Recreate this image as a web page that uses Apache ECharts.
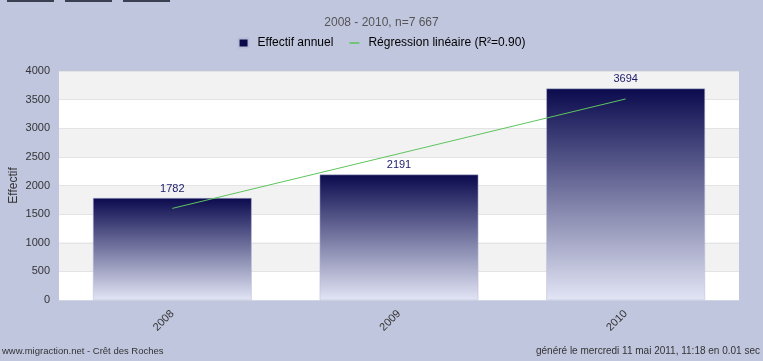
<!DOCTYPE html>
<html><head><meta charset="utf-8">
<script src="https://cdn.jsdelivr.net/npm/echarts@6/dist/echarts.min.js"></script>
<style>html,body{margin:0;padding:0;background:#C1C6DF;}#c{width:763px;height:361px;}</style>
</head><body><div id="c"></div>
<script>
const categories = ['2008', '2009', '2010'];
const effectif = [1782, 2191, 3694];
const regression = [1600, 2556, 3512];
const yTicks = [0, 500, 1000, 1500, 2000, 2500, 3000, 3500, 4000];
const titleText = '2008 - 2010, n=7 667';
const footerLeft = 'www.migraction.net - Crêt des Roches';
const footerRight = 'généré le mercredi 11 mai 2011, 11:18 en 0.01 sec';

const chart = echarts.init(document.getElementById('c'), null, {renderer: 'canvas'});
const font = 'Arial, "Liberation Sans", sans-serif';
chart.setOption({
  backgroundColor: '#C1C6DF',
  animation: false,
  textStyle: {fontFamily: font},
  title: {text: titleText, left: 'center', top: 12,
    textStyle: {fontSize: 12, fontWeight: 'normal', color: '#555'}},
  legend: {top: 32, left: 'center', itemWidth: 10, itemHeight: 9, itemGap: 16,
    textStyle: {fontSize: 12, color: '#000', padding: [0, 0, 0, 4]},
    data: [
      {name: 'Effectif annuel', icon: 'rect', itemStyle: {color: '#0A0A4A'}},
      {name: 'Régression linéaire (R²=0.90)', icon: 'path://M0,4L10,4L10,5.6L0,5.6Z', itemStyle: {color: '#5EC45E'}}
    ]},
  grid: {left: 59, right: 24, top: 71, bottom: 61, outerBoundsMode: 'none', containLabel: false},
  xAxis: {type: 'category', data: categories,
    axisLine: {lineStyle: {color: '#D0D4E4'}}, axisTick: {show: false},
    axisLabel: {rotate: 45, color: '#333', fontSize: 11, margin: 12}},
  yAxis: {type: 'value', min: 0, max: 4000, interval: 500,
    name: 'Effectif', nameLocation: 'middle', nameGap: 39, nameRotate: 90, nameMoveOverlap: false,
    nameTextStyle: {fontSize: 12, color: '#333'},
    axisLine: {show: false}, axisTick: {show: false},
    axisLabel: {color: '#333', fontSize: 11, margin: 9,
      formatter: v => yTicks.includes(v) ? String(v) : ''},
    splitLine: {show: true, lineStyle: {color: '#E4E4E4'}},
    splitArea: {show: true, areaStyle: {color: ['#FFFFFF', '#F2F2F2']}}},
  series: [
    {name: 'Effectif annuel', type: 'bar', data: effectif, barWidth: '70%',
      itemStyle: {borderColor: '#B8BCD8', borderWidth: 0.5,
        color: new echarts.graphic.LinearGradient(0, 0, 0, 1, [
          {offset: 0, color: '#0A0A4E'}, {offset: 1, color: '#E2E5F5'}])},
      label: {show: true, position: 'top', color: '#1A1A6A', fontSize: 11, distance: 4}},
    {name: 'Régression linéaire (R²=0.90)', type: 'line', data: regression,
      symbol: 'none', lineStyle: {color: '#5EC45E', width: 1}, z: 5}
  ],
  graphic: [
    {type: 'rect', shape: {x: 7, y: 0, width: 47, height: 2}, style: {fill: '#3A4052'}},
    {type: 'rect', shape: {x: 65, y: 0, width: 47, height: 2}, style: {fill: '#3A4052'}},
    {type: 'rect', shape: {x: 123, y: 0, width: 47, height: 2}, style: {fill: '#3A4052'}},
    {type: 'text', left: 2, top: 346, style: {text: footerLeft, fontSize: 9.5, fill: '#333', fontFamily: font}},
    {type: 'text', right: 3, top: 346, style: {text: footerRight, fontSize: 10, fill: '#333', fontFamily: font}}
  ]
});
</script></body></html>
